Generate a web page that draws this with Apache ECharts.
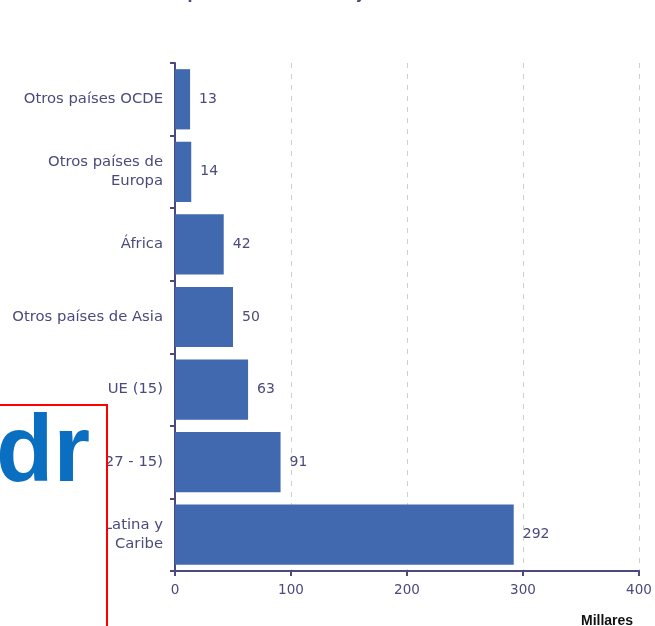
<!DOCTYPE html>
<html><head><meta charset="utf-8">
<script src="https://cdn.jsdelivr.net/npm/echarts@6/dist/echarts.min.js"></script>
<style>html,body{margin:0;padding:0;background:#fff}#c{width:655px;height:626px}</style>
</head><body><div id="c"></div>
<script>
const categories = ['Otros países OCDE', 'Otros países de\nEuropa', 'África', 'Otros países de Asia', 'UE (15)', 'UE (27 - 15)', 'América Latina y\nCaribe'];
const values = [13, 14, 42, 50, 63, 91, 292];
const xTicks = [0, 100, 200, 300, 400];
const titleText = 'económica de procedencia a 30 de junio de 2010';
const unitText = 'Millares';

const navy = '#4a4a7e';
const font = 'DejaVu Sans';
const chart = echarts.init(document.getElementById('c'), null, {renderer: 'canvas'});
chart.setOption({
  animation: false,
  grid: {left: 175, right: 16, top: 63, bottom: 55, containLabel: false},
  xAxis: {
    type: 'value', min: xTicks[0], max: xTicks[xTicks.length - 1], interval: 100,
    axisLine: {show: true, lineStyle: {color: navy, width: 2}},
    axisTick: {show: true, length: 5, lineStyle: {color: navy, width: 2}},
    axisLabel: {color: navy, fontSize: 13.5, fontFamily: font, margin: 12},
    splitLine: {show: true, lineStyle: {color: '#cfcfcf', type: [5, 6], width: 1}}
  },
  yAxis: {
    type: 'category', data: categories, inverse: true,
    axisLine: {show: true, lineStyle: {color: navy, width: 2}},
    axisTick: {show: true, length: 5, lineStyle: {color: navy, width: 2}},
    axisLabel: {color: navy, fontSize: 14.8, fontFamily: font, margin: 12, lineHeight: 19, align: 'right'}
  },
  series: [{
    type: 'bar', data: values, barCategoryGap: '17%',
    itemStyle: {color: '#4169b0'},
    label: {show: true, position: 'right', distance: 9, color: navy, fontSize: 14, fontFamily: font}
  }],
  graphic: [
    {type: 'text', left: 70, top: -12, z: 10,
     style: {text: titleText, fill: navy, font: 'bold 14.5px DejaVu Sans'}},
    {type: 'text', left: 581, top: 614, z: 10,
     style: {text: unitText, fill: '#111', font: 'bold 14px Liberation Sans'}},
    {type: 'rect', shape: {x: -10, y: 405, width: 117, height: 240}, z: 100,
     style: {fill: '#fff', stroke: '#ff0000', lineWidth: 2}},
    {type: 'text', x: -4, y: 408, z: 101,
     style: {text: 'dr', fill: '#0a6fc0', font: 'bold 94px Liberation Sans', textVerticalAlign: 'top'}}
  ]
});
</script></body></html>
